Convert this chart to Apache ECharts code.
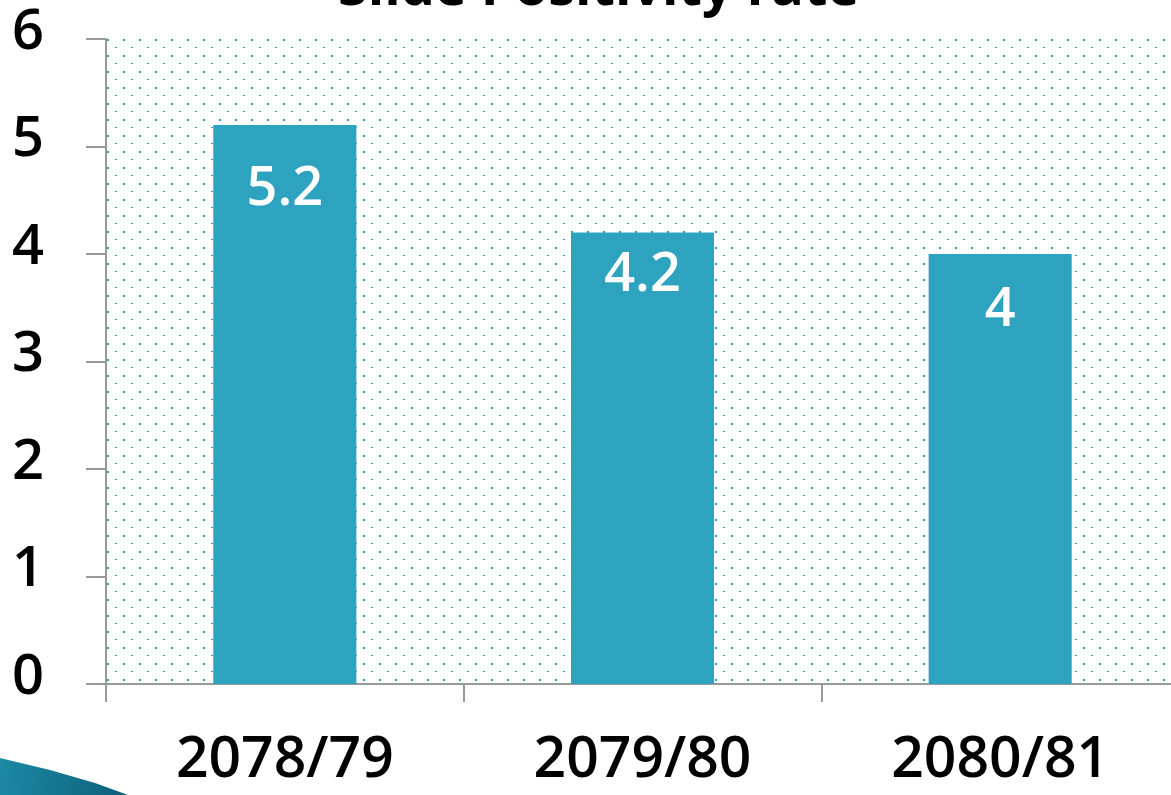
<!DOCTYPE html>
<html>
<head>
<meta charset="utf-8">
<script src="https://cdn.jsdelivr.net/npm/echarts@6/dist/echarts.min.js"></script>
<style>
  html, body { margin: 0; padding: 0; background: #fff; }
  #chart { width: 1171px; height: 795px; }
</style>
</head>
<body>
<div id="chart"></div>
<script>
const titleText = "Slide Positivity rate";
const years = ["2078/79", "2079/80", "2080/81"];
const positivity = [5.2, 4.2, 4];
const yTicks = { min: 0, max: 6, step: 1 };

const teal = "#2ea3bf";
const font = "'Open Sans', sans-serif";
// the value labels sit at slightly different depths in each bar
const labelDistance = [38, 16, 30];

// dotted background of the plot area
function dotPattern() {
  const c = document.createElement("canvas");
  c.width = 16;
  c.height = 16;
  const ctx = c.getContext("2d");
  ctx.fillStyle = "#2a9fbc";
  ctx.fillRect(11, 7, 2, 2);
  ctx.fillRect(3, 15, 2, 2);
  return c;
}

const chart = echarts.init(document.getElementById("chart"));

chart.setOption({
  animation: false,
  title: {
    text: titleText,
    left: 338,
    top: -37,
    padding: 0,
    textStyle: { fontFamily: font, fontSize: 54, fontWeight: "bold", color: "#000" },
  },
  grid: {
    left: 106,
    top: 39,
    right: -8,
    bottom: 111,
    show: true,
    borderWidth: 0,
    backgroundColor: { image: dotPattern(), repeat: "repeat" },
    outerBoundsMode: "none",
  },
  xAxis: {
    type: "category",
    data: years,
    axisLine: { lineStyle: { color: "#999", width: 2 } },
    axisTick: { show: true, interval: 0, length: 18, lineStyle: { color: "#999", width: 2 } },
    axisLabel: { fontFamily: font, fontSize: 57, fontWeight: 600, color: "#000", margin: 48 },
  },
  yAxis: {
    type: "value",
    min: yTicks.min,
    max: yTicks.max,
    interval: yTicks.step,
    splitLine: { show: false },
    axisLine: { show: true, lineStyle: { color: "#999", width: 2 } },
    axisTick: { show: true, length: 20, lineStyle: { color: "#999", width: 2 } },
    axisLabel: { fontFamily: font, fontSize: 56, fontWeight: 600, color: "#000", margin: 62, verticalAlign: "bottom", padding: [0, 0, -22, 0] },
  },
  series: [
    {
      type: "bar",
      data: positivity.map((v, i) => ({ value: v, label: { distance: labelDistance[i] } })),
      barWidth: "40%",
      itemStyle: { color: teal },
      label: {
        show: true,
        position: "insideTop",
        color: "#fff",
        fontFamily: font,
        fontSize: 54,
        fontWeight: 600,
      },
    },
  ],
  graphic: [
    {
      type: "polygon",
      shape: { points: [[0, 758], [50, 770], [95, 783], [128, 795], [0, 795]] },
      style: {
        fill: {
          type: "linear", x: 0, y: 0, x2: 1, y2: 1,
          colorStops: [{ offset: 0, color: "#1d8aa6" }, { offset: 1, color: "#0d5f78" }],
        },
      },
    },
  ],
});
</script>
</body>
</html>
